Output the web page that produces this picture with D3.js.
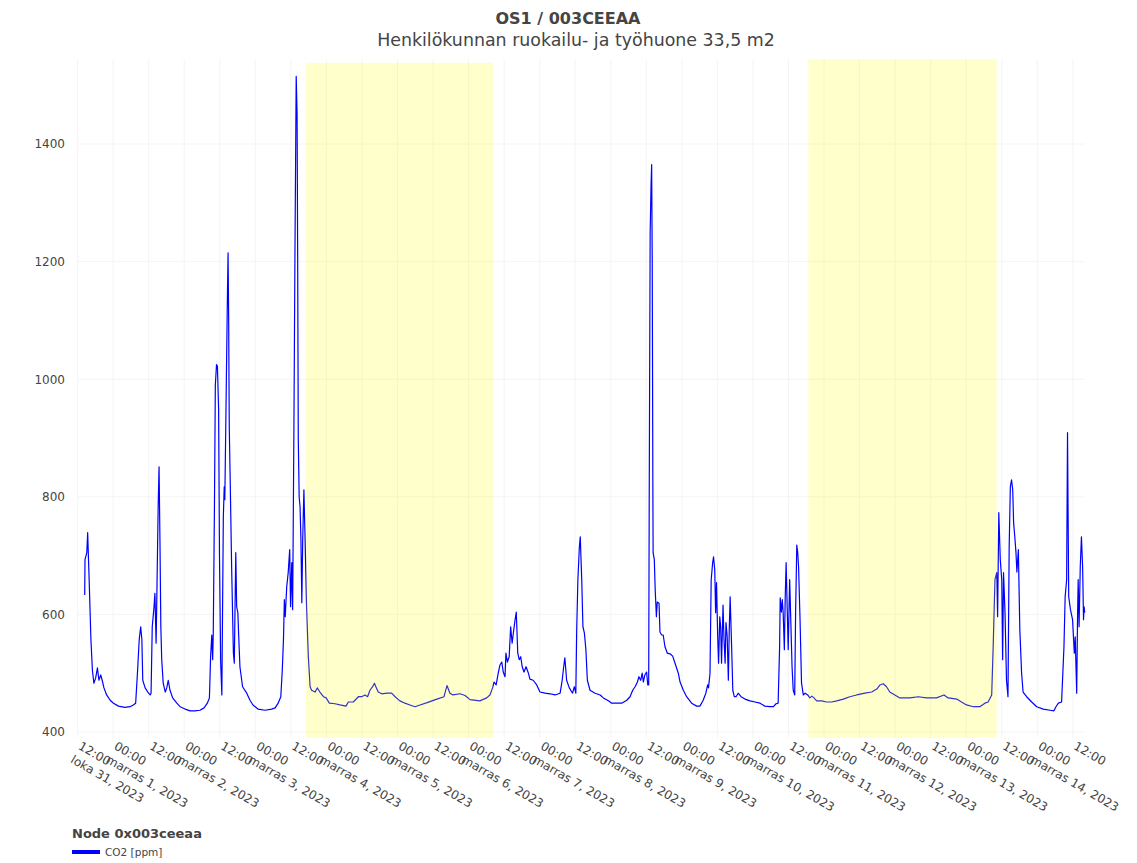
<!DOCTYPE html>
<html>
<head>
<meta charset="utf-8">
<script src="https://cdn.jsdelivr.net/npm/d3@7/dist/d3.min.js"></script>
<style>
  html, body { margin: 0; padding: 0; background: #fff; }
  svg { display: block; }
  text { font-family: "DejaVu Sans", Verdana, sans-serif; fill: #444; }
</style>
</head>
<body>
<svg id="chart" width="1137" height="863"></svg>
<script>
// ---------- DATA ----------
const titleText = "OS1 / 003CEEAA";
const subtitleText = "Henkilökunnan ruokailu- ja työhuone 33,5 m2";
const legendTitle = "Node 0x003ceeaa";
const seriesName = "CO2 [ppm]";
const monthNames = ["tammi","helmi","maalis","huhti","touko","kesä","heinä","elo","syys","loka","marras","joulu"];
const startTime = new Date(2023, 9, 31, 0, 0, 0); // hours below are counted from this moment
const xRangeHours = [12, 352];                    // visible time window (hours from startTime)
const yTicks = [400, 600, 800, 1000, 1200, 1400];

// CO2 readings: [hours since 31.10.2023 00:00, ppm]
const readings = [
[14.4,633],[14.5,693],[15.1,705],[15.4,739],[15.9,659],[16.5,557],[17.0,505],[17.5,483],[18.1,492],[18.7,509],[19.2,488],[19.8,497],[20.3,488],[20.9,475],[21.8,463],[23.0,454],[24.1,449],[25.8,444],[28.0,442],[29.7,443],[30.8,446],[31.6,449],[32.2,500],[32.8,557],[33.3,579],[33.7,557],[34.0,488],[34.8,475],[35.7,468],[36.5,463],[36.8,466],[37.2,579],[37.8,613],[38.1,636],[38.5,551],[38.7,613],[39.2,783],[39.5,851],[39.8,727],[40.1,579],[40.4,523],[40.9,483],[41.6,468],[42.1,475],[42.6,488],[43.2,471],[44.1,458],[45.5,449],[46.6,443],[48.3,439],[50.0,436],[51.6,436],[53.3,437],[54.7,441],[55.8,449],[56.5,458],[56.9,528],[57.3,565],[57.6,523],[57.8,568],[58.2,783],[58.5,990],[58.9,1025],[59.2,1022],[59.6,950],[59.9,700],[60.3,520],[60.7,463],[61.2,766],[61.5,817],[61.7,795],[62.1,950],[62.6,1150],[62.8,1215],[63.0,1100],[63.2,920],[63.5,834],[64.0,681],[64.6,534],[64.9,517],[65.4,705],[65.7,613],[66.1,603],[66.4,562],[66.8,511],[67.7,477],[69.1,466],[70.2,454],[71.2,446],[72.9,439],[75.3,437],[77.5,439],[78.7,441],[79.7,449],[80.6,460],[81.1,505],[81.5,557],[81.8,625],[82.1,596],[82.6,647],[83.1,671],[83.6,710],[83.9,613],[84.3,688],[84.6,608],[85.0,897],[85.4,1230],[85.8,1515],[86.1,1450],[86.3,1200],[86.5,900],[86.8,800],[87.1,783],[87.4,727],[87.7,620],[88.0,727],[88.4,812],[88.8,727],[89.3,613],[89.9,528],[90.5,477],[91.0,471],[92.2,468],[92.9,475],[93.8,468],[95.0,460],[95.9,458],[97.0,449],[98.9,448],[100.6,446],[102.6,444],[103.4,451],[105.1,451],[106.8,460],[107.9,460],[109.0,463],[109.9,460],[110.7,471],[111.6,477],[112.2,483],[112.7,477],[113.5,468],[114.7,465],[116.4,466],[118.0,466],[119.2,460],[120.8,453],[122.5,449],[124.2,446],[125.9,443],[127.6,446],[130.0,450],[133.3,456],[135.7,460],[136.7,479],[137.7,466],[138.7,463],[141.1,465],[142.8,462],[144.5,455],[147.8,453],[150.1,458],[151.2,463],[152.1,475],[152.6,485],[153.3,480],[154.0,500],[154.6,514],[155.2,519],[155.7,502],[156.3,494],[156.6,534],[157.1,519],[157.7,528],[158.2,579],[158.7,551],[159.1,568],[159.7,591],[160.1,604],[160.6,534],[161.1,523],[161.6,528],[162.1,511],[162.7,502],[163.4,511],[164.2,500],[164.7,490],[165.8,488],[167.0,480],[168.1,468],[169.8,466],[171.5,465],[173.2,463],[174.9,466],[175.6,488],[176.1,511],[176.5,526],[177.1,488],[178.0,475],[179.1,466],[179.7,477],[180.2,466],[180.5,574],[180.9,659],[181.4,715],[181.7,732],[182.2,659],[182.6,579],[183.1,568],[183.6,540],[184.1,488],[185.0,471],[186.7,466],[188.4,463],[189.5,458],[191.2,453],[192.3,449],[194.0,449],[195.7,449],[197.4,454],[198.5,460],[199.4,471],[200.2,477],[201.0,485],[201.5,494],[202.1,488],[202.6,500],[203.0,485],[203.5,497],[204.1,502],[204.5,480],[204.8,480],[205.0,829],[205.3,1250],[205.6,1330],[205.8,1365],[206.0,1200],[206.2,829],[206.3,705],[206.7,693],[207.0,642],[207.4,596],[207.7,621],[208.3,619],[208.6,570],[209.2,565],[209.7,565],[210.3,545],[211.1,534],[212.0,533],[212.9,529],[213.7,517],[214.8,500],[215.4,485],[216.5,471],[217.6,460],[219.3,449],[221.0,444],[222.1,444],[223.2,454],[224.1,466],[224.7,480],[225.0,475],[225.5,500],[225.9,659],[226.4,688],[226.7,698],[227.1,676],[227.4,603],[227.7,654],[228.1,562],[228.4,517],[228.8,596],[229.1,579],[229.4,517],[229.9,616],[230.2,562],[230.6,517],[230.9,586],[231.3,562],[231.7,488],[232.0,574],[232.3,630],[232.8,545],[233.2,471],[233.7,460],[234.3,460],[235.0,466],[236.0,460],[237.3,456],[239.0,453],[240.7,451],[242.4,449],[244.0,444],[245.7,443],[246.9,443],[247.8,448],[248.5,449],[249.0,545],[249.2,628],[249.6,604],[249.9,625],[250.2,603],[250.6,540],[250.9,630],[251.2,688],[251.6,603],[251.9,540],[252.4,659],[252.7,603],[253.2,511],[253.6,471],[254.1,463],[254.4,603],[254.8,718],[255.1,706],[255.4,681],[255.9,591],[256.4,483],[257.0,463],[257.6,466],[258.5,463],[259.2,458],[259.9,461],[260.6,458],[261.5,453],[263.2,453],[264.9,451],[266.6,451],[268.3,453],[270.5,456],[272.7,460],[275.0,463],[277.8,466],[280.1,468],[281.8,473],[282.9,480],[284.0,482],[285.1,477],[286.2,468],[287.9,463],[289.6,458],[293.0,458],[295.8,460],[298.6,458],[302.0,458],[304.5,463],[305.9,458],[308.8,456],[310.4,451],[312.1,446],[314.4,443],[316.6,443],[318.3,449],[319.4,451],[320.6,463],[321.1,545],[321.7,659],[322.3,671],[322.6,596],[323.0,773],[323.5,693],[324.0,659],[324.3,523],[324.6,671],[325.1,603],[325.6,488],[326.1,460],[326.5,715],[326.9,817],[327.3,829],[327.7,812],[328.0,756],[328.4,732],[328.8,705],[329.1,672],[329.6,710],[330.1,574],[330.7,500],[331.2,468],[332.4,460],[334.1,451],[335.8,443],[338.0,439],[340.3,437],[341.6,436],[342.3,443],[343.1,449],[344.2,451],[345.0,545],[345.4,630],[345.9,659],[346.2,909],[346.6,630],[347.2,608],[347.9,591],[348.5,534],[348.8,562],[349.3,466],[349.6,603],[349.8,659],[350.1,579],[350.5,681],[350.9,732],[351.3,681],[351.6,591],[351.8,613],[352.0,603]
];

// weekend shading: [start hour, end hour, top ppm]
const shadeStart = [89.1, 258.7];
const shadeEnd = [152.3, 322.3];
const shadeTop = [1538, 1544];
const shadeBottom = 390;

// ---------- CHART ----------
const svg = d3.select("#chart");
const toDate = h => new Date(startTime.getTime() + h * 3600 * 1000);
const data = readings.map(([h, v]) => ({ t: toDate(h), v }));

const x = d3.scaleTime()
  .domain(xRangeHours.map(toDate))
  .range([77.6, 1084.7]);
const y = d3.scaleLinear()
  .domain([400, 1400])
  .range([732, 144]);

const plotTop = y(1544), plotBottom = y(shadeBottom);

const xTicks = x.ticks(d3.timeHour.every(12)).filter(d => d.getHours() % 12 === 0);

// grid
const grid = svg.append("g");
grid.selectAll("line.v").data(xTicks).enter().append("line")
  .attr("x1", d => x(d)).attr("x2", d => x(d))
  .attr("y1", plotTop).attr("y2", plotBottom)
  .attr("stroke", "#f4f4f4").attr("stroke-width", 1);
grid.selectAll("line.h").data(yTicks).enter().append("line")
  .attr("x1", x.range()[0]).attr("x2", x.range()[1])
  .attr("y1", d => y(d)).attr("y2", d => y(d))
  .attr("stroke", "#f4f4f4").attr("stroke-width", 1);

// line
const line = d3.line().x(d => x(d.t)).y(d => y(d.v));
svg.append("path").datum(data)
  .attr("d", line)
  .attr("fill", "none")
  .attr("stroke", "blue")
  .attr("stroke-width", 1.2)
  .attr("stroke-linejoin", "round");

// shading (drawn above the trace)
svg.append("g").selectAll("rect").data(shadeStart.map((s, i) => ({ s, e: shadeEnd[i], top: shadeTop[i] })))
  .enter().append("rect")
  .attr("x", d => x(toDate(d.s)))
  .attr("width", d => x(toDate(d.e)) - x(toDate(d.s)))
  .attr("y", d => y(d.top))
  .attr("height", d => y(shadeBottom) - y(d.top))
  .attr("fill", "yellow")
  .attr("fill-opacity", 0.2);

// y axis labels
const yAxis = d3.axisLeft(y).tickValues(yTicks).tickFormat(d3.format("d")).tickSize(0).tickPadding(0);
const yg = svg.append("g").attr("transform", "translate(65,0)").call(yAxis);
yg.select(".domain").remove();
yg.selectAll("text").attr("font-size", 12).attr("fill", "#444")
  .attr("font-family", "DejaVu Sans, Verdana, sans-serif");

// x axis labels (rotated, two-line date labels)
const xg = svg.append("g");
const lab = xg.selectAll("g").data(xTicks).enter().append("g")
  .attr("transform", d => `translate(${x(d)},748.5) rotate(30)`);
lab.append("text")
  .attr("font-size", 12)
  .each(function (d, i) {
    const t = d3.select(this);
    const hh = String(d.getHours()).padStart(2, "0") + ":" + String(d.getMinutes()).padStart(2, "0");
    t.append("tspan").attr("x", 0).attr("dy", 0).text(hh);
    if (i === 0 || d.getHours() === 0) {
      t.append("tspan").attr("x", 0).attr("dy", "1.3em")
        .text(`${monthNames[d.getMonth()]} ${d.getDate()}, ${d.getFullYear()}`);
    }
  });

// title
svg.append("text").attr("x", 568).attr("y", 24).attr("text-anchor", "middle")
  .attr("font-size", 16).attr("font-weight", "bold").text(titleText);
svg.append("text").attr("x", 576).attr("y", 46).attr("text-anchor", "middle")
  .attr("font-size", 17.4).text(subtitleText);

// legend
svg.append("text").attr("x", 72).attr("y", 838).attr("font-size", 13)
  .attr("font-weight", "bold").text(legendTitle);
svg.append("line").attr("x1", 72).attr("x2", 100).attr("y1", 852).attr("y2", 852)
  .attr("stroke", "blue").attr("stroke-width", 4);
svg.append("text").attr("x", 105).attr("y", 856).attr("font-size", 10.5).text(seriesName);
</script>
</body>
</html>
